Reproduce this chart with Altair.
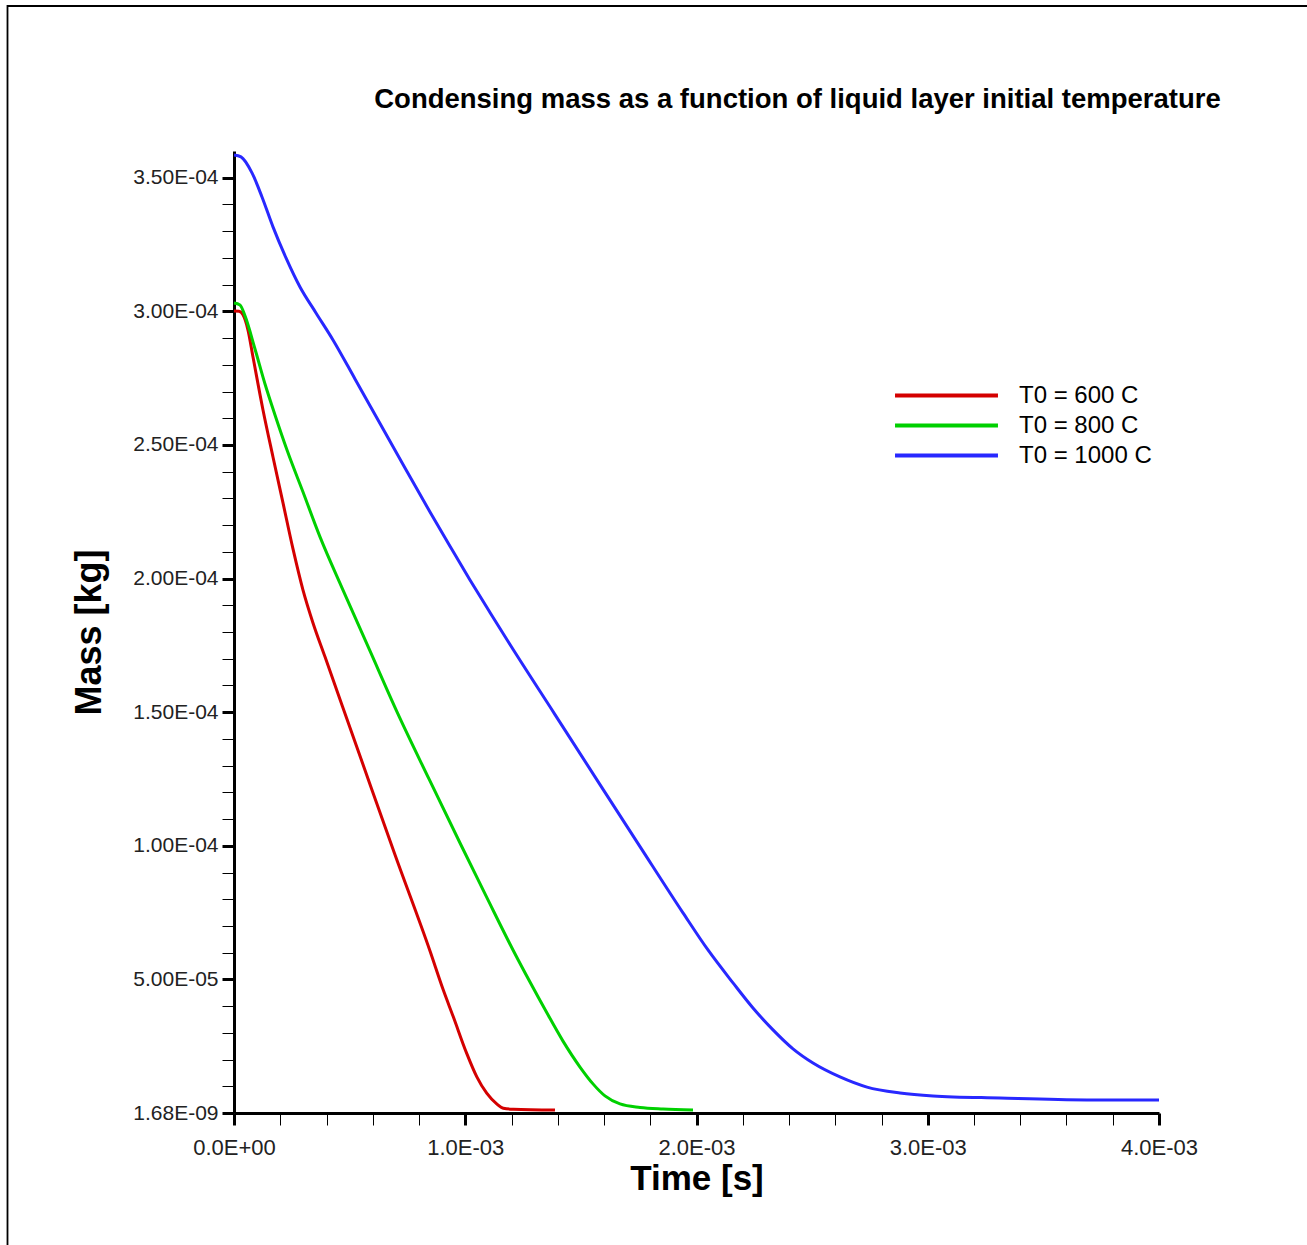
import json
import altair as alt
import pandas as pd

# ---- data (time in s, mass in kg) ----
t600 = [0.0, 0.0216e-3, 0.0389e-3, 0.0605e-3, 0.0822e-3, 0.1254e-3, 0.1686e-3, 0.2119e-3,
        0.2551e-3, 0.2984e-3, 0.3416e-3, 0.3935e-3, 0.5449e-3, 0.6962e-3, 0.8476e-3,
        0.9051e-3, 0.9483e-3, 1.0063e-3, 1.0495e-3, 1.0928e-3, 1.136e-3, 1.1645e-3,
        1.2078e-3, 1.388e-3]
m600 = [3.001e-4, 3.000e-4, 2.987e-4, 2.930e-4, 2.829e-4, 2.631e-4, 2.455e-4, 2.283e-4,
        2.111e-4, 1.957e-4, 1.834e-4, 1.707e-4, 1.336e-4, 0.966e-4, 0.606e-4,
        0.460e-4, 0.360e-4, 0.223e-4, 0.136e-4, 0.074e-4, 0.034e-4, 0.018e-4,
        0.014e-4, 0.011e-4]

t800 = [0.0, 0.0259e-3, 0.0476e-3, 0.0908e-3, 0.1341e-3, 0.1773e-3, 0.2292e-3, 0.2984e-3,
        0.3719e-3, 0.4714e-3, 0.5881e-3, 0.7049e-3, 0.8432e-3, 0.9816e-3, 1.0941e-3,
        1.2065e-3, 1.2800e-3, 1.3535e-3, 1.4227e-3, 1.4962e-3, 1.5524e-3, 1.6043e-3,
        1.6692e-3, 1.7557e-3, 1.8551e-3, 1.9849e-3]
m800 = [3.031e-4, 3.024e-4, 2.983e-4, 2.859e-4, 2.728e-4, 2.612e-4, 2.481e-4, 2.324e-4,
        2.156e-4, 1.957e-4, 1.729e-4, 1.501e-4, 1.250e-4, 1.003e-4, 0.805e-4,
        0.610e-4, 0.490e-4, 0.374e-4, 0.269e-4, 0.172e-4, 0.109e-4, 0.064e-4,
        0.034e-4, 0.021e-4, 0.015e-4, 0.011e-4]

t1000 = [0.0, 0.0303e-3, 0.0778e-3, 0.1211e-3, 0.1686e-3, 0.2249e-3, 0.2854e-3, 0.3546e-3,
         0.4281e-3, 0.5232e-3, 0.6314e-3, 0.7395e-3, 0.8476e-3, 0.9341e-3, 1.0205e-3,
         1.1070e-3, 1.1935e-3, 1.3881e-3, 1.5827e-3, 1.7557e-3, 1.9416e-3, 2.0497e-3,
         2.1578e-3, 2.2443e-3, 2.3308e-3, 2.4173e-3, 2.5038e-3, 2.6205e-3, 2.7373e-3,
         2.8800e-3, 3.0227e-3, 3.3124e-3, 3.6886e-3, 4.0e-3]
m1000 = [3.585e-4, 3.578e-4, 3.518e-4, 3.428e-4, 3.316e-4, 3.200e-4, 3.091e-4, 2.994e-4,
         2.893e-4, 2.747e-4, 2.580e-4, 2.414e-4, 2.249e-4, 2.121e-4, 1.995e-4,
         1.873e-4, 1.753e-4, 1.491e-4, 1.229e-4, 0.997e-4, 0.749e-4, 0.610e-4,
         0.487e-4, 0.393e-4, 0.311e-4, 0.240e-4, 0.187e-4, 0.135e-4, 0.097e-4,
         0.075e-4, 0.064e-4, 0.056e-4, 0.049e-4, 0.049e-4]

series_names = ["T0 = 600 C", "T0 = 800 C", "T0 = 1000 C"]
series_colors = ["#d40000", "#00d000", "#2828ff"]

y_tick_labels = ["1.68E-09", "5.00E-05", "1.00E-04", "1.50E-04", "2.00E-04",
                 "2.50E-04", "3.00E-04", "3.50E-04"]
x_tick_labels = ["0.0E+00", "1.0E-03", "2.0E-03", "3.0E-03", "4.0E-03"]

title_text = "Condensing mass as a function of liquid layer initial temperature"

# ---- build table ----
rows = []
for name, ts, ms in zip(series_names, [t600, t800, t1000], [m600, m800, m1000]):
    for i, (t, m) in enumerate(zip(ts, ms)):
        rows.append({"series": name, "t": t, "m": m, "order": i})
df = pd.DataFrame(rows)

y_ticks = [round(i * 1e-5, 10) for i in range(36)]
x_ticks = [round(i * 2e-4, 10) for i in range(21)]

y_major = "abs(datum.value/5e-5 - round(datum.value/5e-5)) < 1e-6"
x_major = "abs(datum.value/1e-3 - round(datum.value/1e-3)) < 1e-6"
y_label_expr = f"({y_major}) ? {json.dumps(y_tick_labels)}[round(datum.value/5e-5)] : ''"
x_label_expr = f"({x_major}) ? {json.dumps(x_tick_labels)}[round(datum.value/1e-3)] : ''"

FONT = "Liberation Sans"

x_axis = alt.Axis(
    values=x_ticks, labelExpr=x_label_expr, title="Time [s]",
    domainColor="black", domainWidth=3, tickColor="black", tickSize=12,
    tickWidth={"condition": {"test": x_major, "value": 3}, "value": 1},
    labelFont=FONT, labelFontSize=22, labelColor="#222222", labelPadding=12,
    labelFlush=False, labelOverlap=False,
    titleFont=FONT, titleFontSize=35, titleFontWeight="bold", titleColor="black",
    titlePadding=3, grid=False,
)
y_axis = alt.Axis(
    values=y_ticks, labelExpr=y_label_expr, title="Mass [kg]",
    domainColor="black", domainWidth=3, tickColor="black", tickSize=12,
    tickWidth={"condition": {"test": y_major, "value": 3}, "value": 1},
    labelFont=FONT, labelFontSize=21, labelColor="#222222", labelPadding=4,
    labelFlush=False, labelOverlap=False,
    titleFont=FONT, titleFontSize=36, titleFontWeight="bold", titleColor="black",
    titlePadding=24, grid=False,
)

# legend symbol: a long horizontal stroke drawn from a short nominal size
legend_line_path = "M-5,0H5"

lines = alt.Chart(df).mark_line(strokeWidth=3, interpolate="monotone").encode(
    x=alt.X("t:Q", scale=alt.Scale(domain=[0, 4e-3], nice=False, zero=False), axis=x_axis),
    y=alt.Y("m:Q", scale=alt.Scale(domain=[0, 3.6e-4], nice=False), axis=y_axis),
    color=alt.Color(
        "series:N",
        scale=alt.Scale(domain=series_names, range=series_colors),
        legend=alt.Legend(
            orient="none", legendX=700, legendY=232, title=None, padding=0,
            symbolType=legend_line_path, symbolSize=424, symbolStrokeWidth=4,
            labelFont=FONT, labelFontSize=24, labelColor="black",
            labelOffset=60, rowPadding=5,
        ),
    ),
    order="order:Q",
)

frame = alt.Chart(pd.DataFrame({"k": [0]})).mark_rect(
    filled=False, stroke="black", strokeWidth=1.8
).encode(
    x=alt.value(-226.5), x2=alt.value(1500), y=alt.value(-145), y2=alt.value(1500)
)

chart = alt.layer(frame, lines).properties(
    width=925,
    height=962,
    autosize=alt.AutoSizeParams(type="none"),
    padding={"left": 234, "top": 151, "right": 148, "bottom": 132},
    title=alt.TitleParams(
        title_text, font=FONT, fontSize=27.5, fontWeight="bold", color="black",
        anchor="middle", dx=101, dy=130.6, offset=0, frame="group",
        baseline="alphabetic",
    ),
).configure_view(strokeWidth=0)

chart.save("out.html", embed_options={"renderer": "svg", "actions": False})
